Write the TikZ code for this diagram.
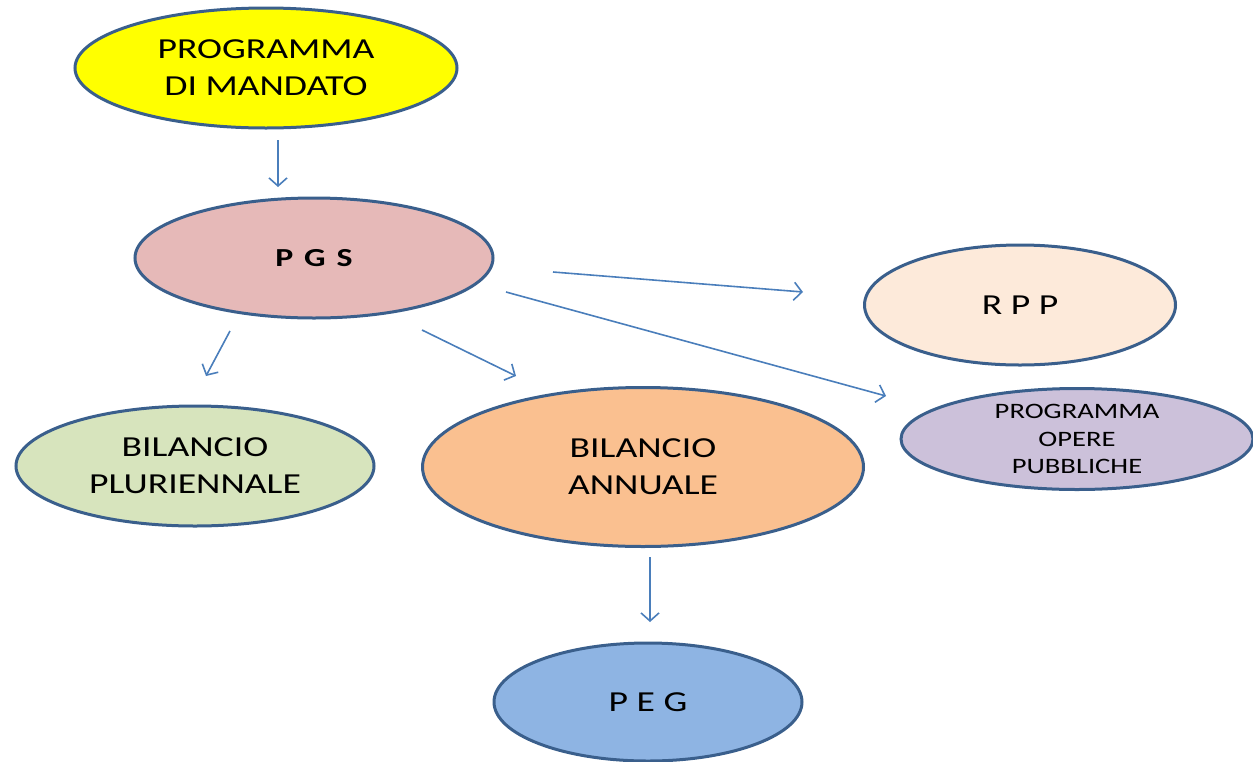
\documentclass[tikz,border=0pt]{standalone}
\usepackage{fontspec}
\setmainfont{Carlito}[FakeStretch=1.3]
\usetikzlibrary{shapes.geometric,arrows.meta}
\definecolor{bord}{HTML}{3A5F8C}
\definecolor{arr}{HTML}{4A7EBB}
\definecolor{cyel}{HTML}{FFFF00}
\definecolor{cpgs}{HTML}{E6B9B8}
\definecolor{crpp}{HTML}{FDEADA}
\definecolor{copp}{HTML}{CCC1DA}
\definecolor{cplu}{HTML}{D7E4BD}
\definecolor{cann}{HTML}{FAC090}
\definecolor{cpeg}{HTML}{8EB4E3}
\tikzset{
  ell/.style={ellipse, draw=bord, line width=3pt, inner sep=0pt, align=center, text=black},
  big/.style={font=\fontsize{29}{37}\selectfont},
  small/.style={font=\fontsize{22}{27.5}\selectfont},
  conn/.style={draw=arr, line width=1.6pt, -{Straight Barb[length=8pt,width=18pt,line width=1.6pt]}}
}
\begin{document}
\begin{tikzpicture}[x=1pt,y=-1pt]
\useasboundingbox (0,0) rectangle (1253,761);
\node[ell, big, fill=cyel, minimum width=382pt, minimum height=120pt] (pm) at (266,68) {PROGRAMMA\\DI MANDATO};
\node[ell, fill=cpgs, minimum width=358pt, minimum height=120pt, font=\fontsize{26}{30}\selectfont\bfseries] (pgs) at (314,258) {P\hspace{11pt}G\hspace{11pt}S};
\node[ell, big, fill=crpp, minimum width=311pt, minimum height=120pt] (rpp) at (1020,305) {R P P};
\node[ell, small, fill=copp, minimum width=352pt, minimum height=101pt] (opp) at (1077,439) {PROGRAMMA\\OPERE\\PUBBLICHE};
\node[ell, big, fill=cplu, minimum width=358pt, minimum height=120pt] (plu) at (195,466) {BILANCIO\\PLURIENNALE};
\node[ell, big, fill=cann, minimum width=441pt, minimum height=159pt] (ann) at (643,467) {BILANCIO\\ANNUALE};
\node[ell, big, fill=cpeg, minimum width=308pt, minimum height=118pt] (peg) at (648,702) {P E G};
\coordinate (a1s) at (278,140); \coordinate (a1e) at (278,187);
\coordinate (a2s) at (553,272); \coordinate (a2e) at (803,292);
\coordinate (a3s) at (506,292); \coordinate (a3e) at (886,396);
\coordinate (a4s) at (230,331); \coordinate (a4e) at (206,376);
\coordinate (a5s) at (422,330); \coordinate (a5e) at (516,376);
\coordinate (a6s) at (650,557); \coordinate (a6e) at (650,622);
\draw[conn] (a1s) -- (a1e);
\draw[conn] (a2s) -- (a2e);
\draw[conn] (a3s) -- (a3e);
\draw[conn] (a4s) -- (a4e);
\draw[conn] (a5s) -- (a5e);
\draw[conn] (a6s) -- (a6e);
\end{tikzpicture}
\end{document}
